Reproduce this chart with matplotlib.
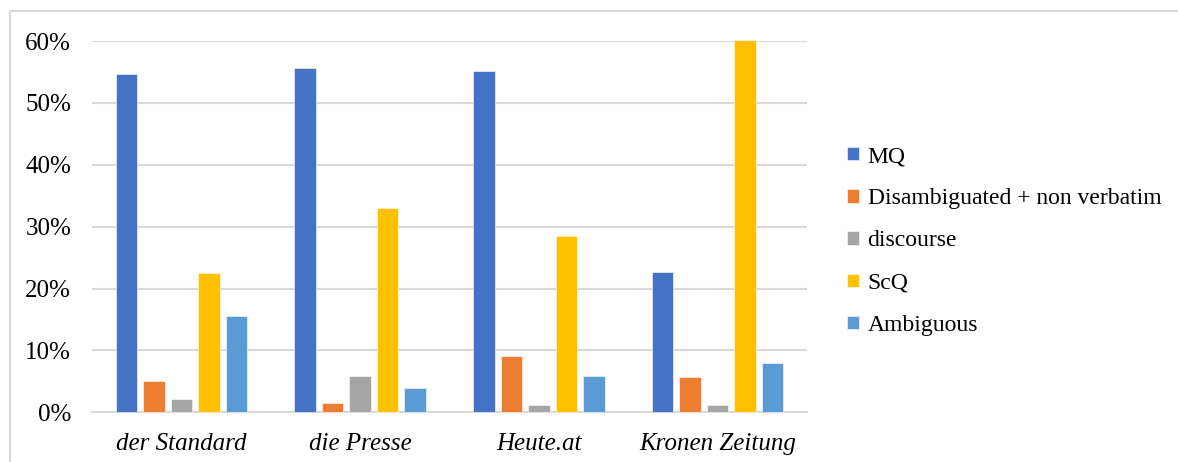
import numpy as np
import matplotlib
matplotlib.use("Agg")
import matplotlib.pyplot as plt
from matplotlib.lines import Line2D
from matplotlib.ticker import PercentFormatter

plt.rcParams['font.family'] = ['Liberation Serif', 'DejaVu Serif']

# data
outlets = ['der Standard', 'die Presse', 'Heute.at', 'Kronen Zeitung']
series_names = ['MQ', 'Disambiguated + non verbatim', 'discourse', 'ScQ', 'Ambiguous']
mq = [0.547, 0.557, 0.552, 0.227]
disambiguated = [0.051, 0.015, 0.091, 0.057]
discourse = [0.021, 0.059, 0.012, 0.011]
scq = [0.225, 0.330, 0.285, 0.602]
ambiguous = [0.156, 0.039, 0.058, 0.080]
colors = ['#4472C4', '#ED7D31', '#A5A5A5', '#FFC000', '#5B9BD5']

W, H = 1178, 462
fig = plt.figure(figsize=(W / 100, H / 100), dpi=100)
ax = fig.add_axes([92 / W, 1 - 412.3 / H, (807 - 92) / W, (412.3 - 41) / H])

x = np.arange(len(outlets))
step = 0.154
width = 0.121
all_series = [mq, disambiguated, discourse, scq, ambiguous]
for i, (name, vals, col) in enumerate(zip(series_names, all_series, colors)):
    ax.bar(x + (i - 2) * step, vals, width, color=col, label=name,
           edgecolor='white', linewidth=0.4, zorder=3, clip_on=False)

ax.set_xlim(-0.5, len(outlets) - 0.5)
ax.set_ylim(0, 0.6)
ax.set_yticks(np.arange(0, 0.61, 0.1))
ax.yaxis.set_major_formatter(PercentFormatter(1.0, decimals=0))
ax.set_xticks(x)
ax.set_xticklabels(outlets, fontstyle='italic', fontsize=17.5)
ax.tick_params(axis='both', length=0, labelsize=18, colors='black')
ax.tick_params(axis='y', pad=15)
ax.tick_params(axis='x', pad=15)
ax.grid(axis='y', color='#D9D9D9', linewidth=1.5, zorder=0)
for s in ['top', 'right', 'left']:
    ax.spines[s].set_visible(False)
ax.spines['bottom'].set_color('#D9D9D9')
ax.spines['bottom'].set_linewidth(1.5)

ax.legend(loc='center left', bbox_to_anchor=(838 / W, 1 - 241 / H), bbox_transform=fig.transFigure,
          frameon=False, fontsize=17, handlelength=0.5, handleheight=0.5,
          handletextpad=0.35, labelspacing=0.9, borderaxespad=0)

# outer chart frame (top and left edges visible)
fig.add_artist(Line2D([10 / W, 1], [1 - 11 / H, 1 - 11 / H], color='#D9D9D9', linewidth=1.5))
fig.add_artist(Line2D([10 / W, 10 / W], [0, 1 - 11 / H], color='#D9D9D9', linewidth=1.5))

fig.savefig('out.png', dpi=100)
